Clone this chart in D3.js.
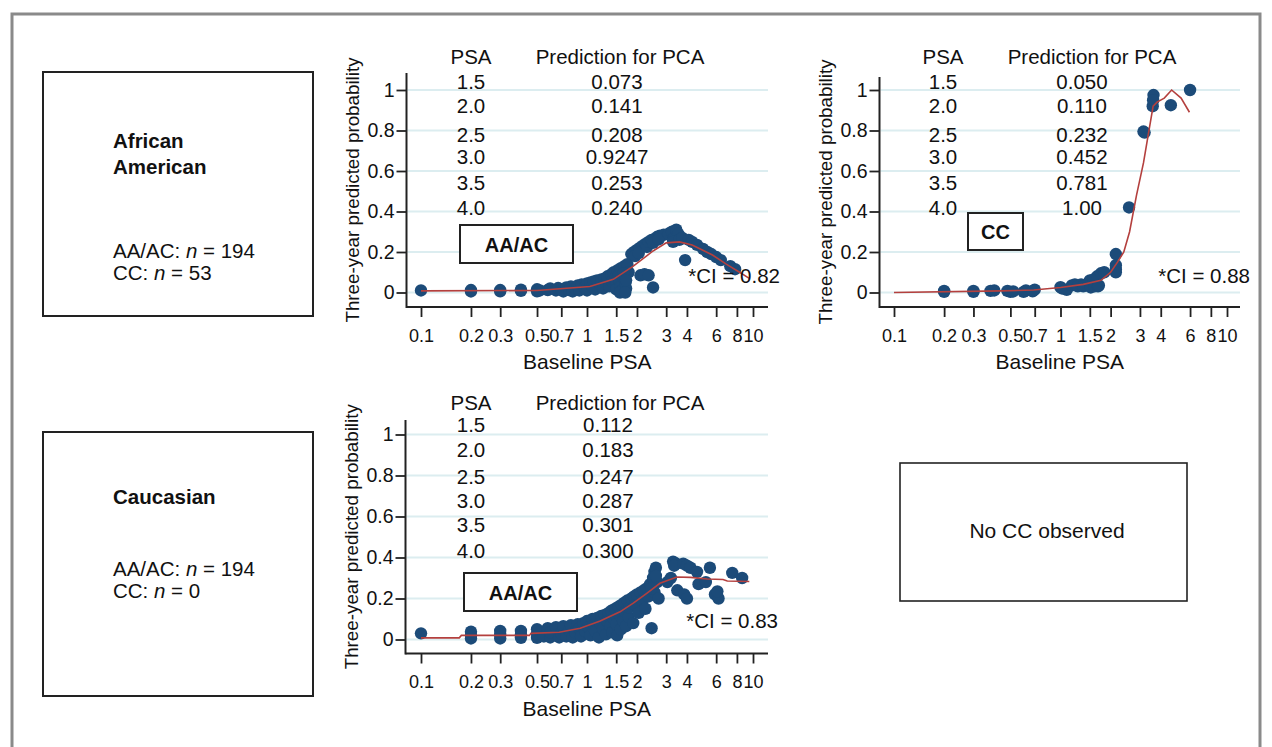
<!DOCTYPE html>
<html>
<head>
<meta charset="utf-8">
<script src="https://cdn.jsdelivr.net/npm/d3@7"></script>
<style>
  html, body { margin: 0; padding: 0; background: #fff; }
  svg { display: block; font-family: "Liberation Sans", Arial, Helvetica, sans-serif; }
</style>
</head>
<body>
<svg id="chart" width="1272" height="747"></svg>
<script>
// ---------------- DATA ----------------
const psaTicks = [0.1, 0.2, 0.3, 0.5, 0.7, 1, 1.5, 2, 3, 4, 6, 8, 10];
const psaTickLabels = ["0.1", "0.2", "0.3", "0.5", "0.7", "1", "1.5", "2", "3", "4", "6", "8", "10"];
const probTicks = [0, 0.2, 0.4, 0.6, 0.8, 1];
const probTickLabels = ["0", "0.2", "0.4", "0.6", "0.8", "1"];

const tablePSA = ["1.5", "2.0", "2.5", "3.0", "3.5", "4.0"];
const predAfAmAA = ["0.073", "0.141", "0.208", "0.9247", "0.253", "0.240"];
const predAfAmCC = ["0.050", "0.110", "0.232", "0.452", "0.781", "1.00"];
const predCaucAA = ["0.112", "0.183", "0.247", "0.287", "0.301", "0.300"];

const ciLabels = ["*CI = 0.82", "*CI = 0.88", "*CI = 0.83"];
const genotypeLabels = ["AA/AC", "CC", "AA/AC"];

// scatter points [baseline PSA, three-year predicted probability]
const pointsAfAmAA = [
  [0.1,0.01],
  [0.2,0.005],[0.2,0.012],
  [0.3,0.006],[0.3,0.012],
  [0.4,0.008],[0.4,0.014],
  [0.5,0.006],[0.5,0.016],[0.52,0.01],
  [0.58,0.012],[0.6,0.02],
  [0.65,0.01],[0.67,0.022],[0.7,0.015],
  [0.72,0.005],[0.75,0.025],[0.78,0.012],
  [0.8,0.03],[0.82,0.005],[0.85,0.02],[0.88,0.035],
  [0.9,0.01],[0.93,0.04],[0.97,0.025],[1.0,0.045],[1.0,0.01],
  [1.05,0.05],[1.08,0.03],[1.1,0.055],[1.12,0.015],[1.15,0.06],
  [1.2,0.04],[1.22,0.065],[1.25,0.02],[1.28,0.07],[1.3,0.045],
  [1.33,0.08],[1.36,0.03],[1.4,0.09],[1.42,0.055],[1.45,0.1],
  [1.48,0.07],[1.5,0.04],[1.5,0.015],[1.53,0.11],[1.55,0.085],
  [1.58,0.055],[1.6,0.12],[1.6,0.03],[1.62,0.01],[1.65,0.075],
  [1.68,0.13],[1.7,0.045],[1.72,0.02],[1.75,0.14],[1.78,0.1],
  [1.66,0.095],[1.72,0.06],[1.58,0.0],[1.7,0.0],
  [1.85,0.19],[1.92,0.2],[2.0,0.21],[2.08,0.22],[2.16,0.23],[2.25,0.24],
  [1.95,0.18],[2.05,0.195],[2.3,0.225],
  [2.35,0.25],[2.45,0.26],[2.55,0.265],[2.65,0.275],[2.75,0.28],[2.9,0.285],
  [2.5,0.245],[2.7,0.262],
  [2.1,0.085],[2.22,0.09],[2.35,0.085],
  [2.5,0.025],
  [3.1,0.29],[3.25,0.3],[3.35,0.27],[3.45,0.31],[3.55,0.29],[3.3,0.25],[3.6,0.26],
  [3.75,0.27],[3.9,0.16],[4.1,0.26],[4.3,0.25],[4.6,0.235],
  [5.0,0.215],[5.3,0.2],[5.6,0.19],[6.0,0.175],[6.4,0.16],[7.3,0.13],[7.8,0.115]
];
const lineAfAmAA = [
  [0.1,0.008],[0.5,0.01],[0.6,0.015],[1.04,0.03],[1.44,0.065],[1.9,0.13],[2.5,0.205],
  [3.0,0.245],[3.6,0.25],[4.3,0.235],[5.7,0.185],[6.9,0.14],[8.3,0.1],[9.5,0.07]
];

const pointsAfAmCC = [
  [0.2,0.003],[0.2,0.008],
  [0.3,0.003],[0.3,0.008],
  [0.4,0.01],[0.38,0.008],
  [0.5,0.003],[0.48,0.008],[0.52,0.005],
  [0.6,0.003],[0.62,0.01],
  [0.7,0.014],[0.68,0.006],
  [1.0,0.026],[1.02,0.02],
  [1.09,0.013],[1.17,0.035],
  [1.22,0.04],[1.27,0.03],[1.33,0.04],[1.37,0.03],
  [1.5,0.06],[1.52,0.025],[1.58,0.065],[1.6,0.03],[1.68,0.03],
  [1.66,0.08],[1.7,0.035],[1.75,0.095],[1.83,0.1],
  [2.15,0.19],[2.15,0.135],[2.15,0.115],[2.15,0.1],
  [2.58,0.42],
  [3.15,0.795],[3.2,0.79],
  [3.58,0.92],[3.62,0.975],[3.6,0.95],
  [4.6,0.925],
  [6.0,1.0]
];
const lineAfAmCC = [
  [0.1,0.0],[0.44,0.008],[0.69,0.012],[1.0,0.025],[1.37,0.04],[1.75,0.06],[2.0,0.1],
  [2.2,0.15],[2.4,0.2],[2.6,0.3],[2.86,0.48],[3.15,0.64],[3.35,0.77],[3.6,0.92],
  [3.8,0.94],[4.2,0.96],[4.65,1.0],[5.3,0.96],[5.95,0.89]
];

const pointsCaucAA = [
  [0.1,0.03],
  [0.2,0.005],[0.2,0.02],[0.2,0.038],
  [0.3,0.005],[0.3,0.022],[0.3,0.042],
  [0.4,0.008],[0.4,0.025],[0.4,0.042],
  [0.5,0.008],[0.5,0.028],[0.5,0.05],
  [0.55,0.015],[0.58,0.055],[0.6,0.01],[0.6,0.035],
  [0.65,0.06],[0.68,0.01],[0.7,0.03],[0.72,0.065],
  [0.75,0.015],[0.78,0.045],[0.8,0.07],[0.82,0.01],
  [0.85,0.035],[0.88,0.075],[0.9,0.055],[0.92,0.015],
  [0.95,0.08],[0.98,0.04],[1.0,0.09],[1.02,0.06],
  [1.05,0.02],[1.08,0.1],[1.1,0.07],[1.12,0.04],
  [1.15,0.105],[1.18,0.01],[1.2,0.08],[1.22,0.115],
  [1.25,0.05],[1.28,0.12],[1.3,0.025],[1.32,0.09],
  [1.35,0.13],[1.38,0.065],[1.4,0.14],[1.42,0.035],
  [1.45,0.1],[1.48,0.15],[1.5,0.075],[1.52,0.02],
  [1.55,0.16],[1.58,0.12],[1.6,0.05],[1.62,0.17],
  [1.65,0.09],[1.68,0.18],[1.7,0.135],[1.72,0.065],
  [1.75,0.19],[1.78,0.11],[1.8,0.155],[1.85,0.2],
  [1.9,0.08],[1.92,0.21],[1.95,0.17],[2.0,0.22],
  [2.05,0.13],[2.1,0.23],[2.15,0.19],[2.2,0.24],
  [2.25,0.15],[2.3,0.25],[2.35,0.21],[2.4,0.27],
  [2.45,0.055],[2.5,0.3],[2.55,0.33],[2.6,0.35],
  [2.55,0.23],[2.65,0.28],[2.7,0.2],[2.6,0.31],[2.45,0.25],
  [3.05,0.28],[3.2,0.3],[3.3,0.38],[3.45,0.37],[3.5,0.24],[3.35,0.36],
  [3.8,0.37],[4.0,0.36],[4.2,0.35],[3.85,0.22],[4.6,0.33],[4.0,0.2],
  [4.7,0.27],[5.5,0.35],[5.2,0.28],[5.9,0.22],[6.2,0.2],[6.1,0.235],
  [7.5,0.325],[8.6,0.3]
];
const lineCaucAA = [
  [0.1,0.008],[0.17,0.008],[0.175,0.02],[0.45,0.02],[0.46,0.03],[0.68,0.035],
  [0.91,0.055],[1.2,0.09],[1.58,0.135],[1.9,0.177],[2.29,0.225],[2.75,0.274],
  [3.48,0.305],[4.2,0.303],[5.3,0.295],[6.6,0.293],[7.0,0.285],[9.5,0.283]
];

// ---------------- LAYOUT ----------------
const svg = d3.select("#chart");
const BLUE = "#1c4b79";
const RED = "#b4403e";
const GRID = "#dcedf0";

// outer frame
svg.append("path")
  .attr("d", "M12,760 L12,14 L1260,14 L1260,760")
  .attr("fill", "none").attr("stroke", "#8a8a8a").attr("stroke-width", 3);

// left group boxes
function groupBox(x, y, w, h, titleLines, titleY, nLines, nY) {
  svg.append("rect").attr("x", x).attr("y", y).attr("width", w).attr("height", h)
    .attr("fill", "none").attr("stroke", "#222").attr("stroke-width", 2);
  titleLines.forEach((t, i) => {
    svg.append("text").attr("x", 113).attr("y", titleY + i * 26)
      .attr("font-size", 20.5).attr("font-weight", "bold").attr("fill", "#111").text(t);
  });
  nLines.forEach((l, i) => {
    const t = svg.append("text").attr("x", 113).attr("y", nY + i * 22)
      .attr("font-size", 20.5).attr("fill", "#111");
    t.append("tspan").text(l[0]);
    t.append("tspan").attr("font-style", "italic").text("n");
    t.append("tspan").text(" = " + l[1]);
  });
}
groupBox(43, 72, 270, 244, ["African", "American"], 148, [["AA/AC: ", "194"], ["CC: ", "53"]], 258);
groupBox(43, 432, 270, 264, ["Caucasian"], 504, [["AA/AC: ", "194"], ["CC: ", "0"]], 576);

// No CC observed box
svg.append("rect").attr("x", 900).attr("y", 463).attr("width", 287).attr("height", 138)
  .attr("fill", "none").attr("stroke", "#222").attr("stroke-width", 1.6);
svg.append("text").attr("x", 1047).attr("y", 538).attr("text-anchor", "middle")
  .attr("font-size", 21).attr("fill", "#111").text("No CC observed");

// panels
const panels = [
  { pts: pointsAfAmAA, line: lineAfAmAA, preds: predAfAmAA, ci: ciLabels[0], geno: genotypeLabels[0],
    axisX: 406.5, axisTop: 73, axisY: 307, axisRight: 768, xr: [421, 753], yr: [292.5, 90],
    psaCol: 471, predCol: 617, headPred: 620, headY: 64, rows: [89, 113, 141.5, 164, 189.5, 215],
    box: [460, 225, 113, 38], ciX: 780, ciY: 283 },
  { pts: pointsAfAmCC, line: lineAfAmCC, preds: predAfAmCC, ci: ciLabels[1], geno: genotypeLabels[1],
    axisX: 879.5, axisTop: 77, axisY: 307, axisRight: 1240, xr: [894, 1227], yr: [292.5, 90],
    psaCol: 943, predCol: 1082, headPred: 1092, headY: 64, rows: [89, 113, 141.5, 164, 189.5, 215],
    box: [968, 213, 55, 37], ciX: 1250, ciY: 283 },
  { pts: pointsCaucAA, line: lineCaucAA, preds: predCaucAA, ci: ciLabels[2], geno: genotypeLabels[2],
    axisX: 405.5, axisTop: 420, axisY: 653.5, axisRight: 768, xr: [421, 753], yr: [639.5, 434.5],
    psaCol: 471, predCol: 608, headPred: 620, headY: 410, rows: [432, 457, 484, 508, 532, 558],
    box: [464, 573, 113, 38], ciX: 778, ciY: 628 }
];

panels.forEach(p => {
  const g = svg.append("g");
  const x = d3.scaleLog().domain([0.1, 10]).range(p.xr);
  const y = d3.scaleLinear().domain([0, 1]).range(p.yr);

  // gridlines
  g.selectAll("line.grid").data(probTicks).join("line")
    .attr("x1", p.axisX + 1).attr("x2", p.axisRight)
    .attr("y1", d => y(d)).attr("y2", d => y(d))
    .attr("stroke", GRID).attr("stroke-width", 2);

  // table
  g.append("text").attr("x", p.psaCol).attr("y", p.headY).attr("text-anchor", "middle")
    .attr("font-size", 20.5).attr("fill", "#111").text("PSA");
  g.append("text").attr("x", p.headPred).attr("y", p.headY).attr("text-anchor", "middle")
    .attr("font-size", 20.5).attr("fill", "#111").text("Prediction for PCA");
  tablePSA.forEach((v, i) => {
    g.append("text").attr("x", p.psaCol).attr("y", p.rows[i]).attr("text-anchor", "middle")
      .attr("font-size", 20.5).attr("fill", "#111").text(v);
    g.append("text").attr("x", p.predCol).attr("y", p.rows[i]).attr("text-anchor", "middle")
      .attr("font-size", 20.5).attr("fill", "#111").text(p.preds[i]);
  });

  // genotype box
  g.append("rect").attr("x", p.box[0]).attr("y", p.box[1]).attr("width", p.box[2]).attr("height", p.box[3])
    .attr("fill", "#fff").attr("stroke", "#222").attr("stroke-width", 2);
  g.append("text").attr("x", p.box[0] + p.box[2] / 2).attr("y", p.box[1] + p.box[3] / 2 + 7.5)
    .attr("text-anchor", "middle").attr("font-size", 20).attr("font-weight", "bold")
    .attr("fill", "#111").text(p.geno);

  // scatter
  g.selectAll("circle.pt").data(p.pts).join("circle")
    .attr("cx", d => x(d[0])).attr("cy", d => y(d[1])).attr("r", 6.2)
    .attr("fill", BLUE);

  // smooth line
  g.append("path").datum(p.line)
    .attr("d", d3.line().x(d => x(d[0])).y(d => y(d[1])))
    .attr("fill", "none").attr("stroke", RED).attr("stroke-width", 1.6);

  // CI label
  g.append("text").attr("x", p.ciX).attr("y", p.ciY).attr("text-anchor", "end")
    .attr("font-size", 20.5).attr("fill", "#111").text(p.ci);

  // x axis
  const xa = g.append("g").attr("transform", `translate(0,${p.axisY})`)
    .call(d3.axisBottom(x).tickValues(psaTicks).tickFormat((d, i) => psaTickLabels[i])
      .tickSizeOuter(0).tickSizeInner(10).tickPadding(12));
  xa.select(".domain").remove();
  xa.selectAll(".tick line").attr("stroke", "#222").attr("stroke-width", 1.8);
  xa.selectAll(".tick text").attr("font-size", 18).attr("fill", "#111")
    .attr("font-family", "'Liberation Sans', Arial, sans-serif");

  // y axis
  const ya = g.append("g").attr("transform", `translate(${p.axisX},0)`)
    .call(d3.axisLeft(y).tickValues(probTicks).tickFormat((d, i) => probTickLabels[i])
      .tickSizeOuter(0).tickSizeInner(10).tickPadding(2));
  ya.select(".domain").remove();
  ya.selectAll(".tick line").attr("stroke", "#222").attr("stroke-width", 1.8);
  ya.selectAll(".tick text").attr("font-size", 19.5).attr("fill", "#111")
    .attr("font-family", "'Liberation Sans', Arial, sans-serif");

  // axis lines
  g.append("line").attr("x1", p.axisX).attr("x2", p.axisX).attr("y1", p.axisTop).attr("y2", p.axisY + 1)
    .attr("stroke", "#222").attr("stroke-width", 2);
  g.append("line").attr("x1", p.axisX).attr("x2", p.axisRight).attr("y1", p.axisY).attr("y2", p.axisY)
    .attr("stroke", "#222").attr("stroke-width", 2);

  // axis titles
  g.append("text").attr("x", (p.axisX + p.axisRight) / 2).attr("y", p.axisY + 62)
    .attr("text-anchor", "middle").attr("font-size", 21).attr("fill", "#111").text("Baseline PSA");
  g.append("text").attr("transform", `translate(${p.axisX - 48},${(p.axisTop + p.axisY) / 2}) rotate(-90)`)
    .attr("text-anchor", "middle").attr("font-size", 18.8).attr("fill", "#111")
    .text("Three-year predicted probability");
});
</script>
</body>
</html>
